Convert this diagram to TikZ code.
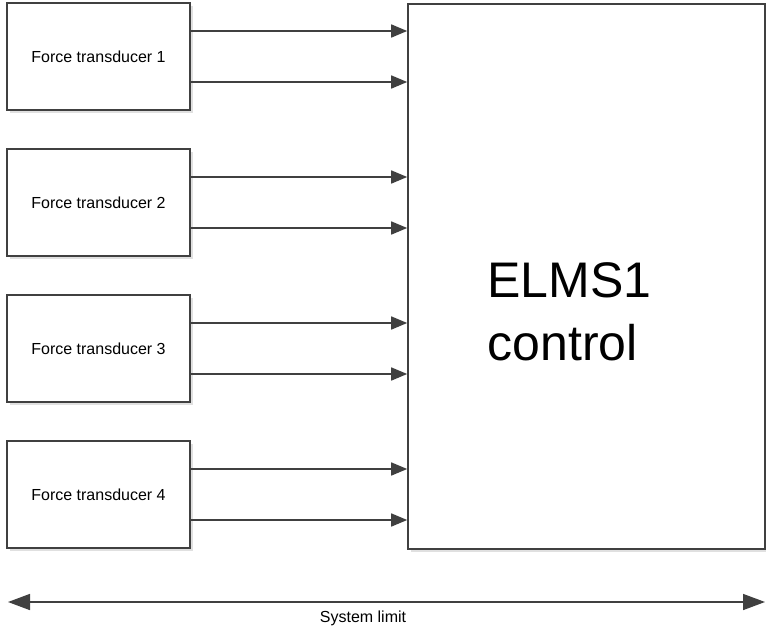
\documentclass[tikz,border=0pt]{standalone}
\usepackage{fontspec}
\setmainfont{Liberation Sans}
\usepackage{xcolor}
\usepackage{tikz}
\usetikzlibrary{arrows.meta,positioning,calc,shadows}
\definecolor{edge}{HTML}{404040}

\begin{document}
\begin{tikzpicture}[x=1pt,y=-1pt,
	box/.style={draw=edge,line width=1.6pt,fill=white,minimum width=183pt,minimum height=107pt,
		font=\fontsize{16}{19}\selectfont,
		drop shadow={shadow xshift=3pt,shadow yshift=-3pt,fill=black!12,opacity=1}},
	sig/.style={draw=edge,line width=1.6pt,-{Triangle[length=16pt,width=13pt]}},
	lim/.style={draw=edge,line width=1.6pt,{Triangle[length=22pt,width=16pt]}-{Triangle[length=22pt,width=16pt]}}]
	\useasboundingbox (0,0) rectangle (766,632);
	% control unit
	\node[box,minimum width=357pt,minimum height=545pt] (elms) at (586.5,276.5) {};
	\node[font=\fontsize{50}{63}\selectfont,align=left,inner sep=0pt] (elmstxt) at (569.5,311.5) {ELMS1\\control};
	% transducers with their two signal lines
	\foreach \i in {1,...,4}{
		\node[box] (ft\i) at (98.5,{56.5+146*(\i-1)}) {Force transducer \i};
		\draw[sig] ([yshift=-25.5pt]ft\i.east) -- ([yshift=-25.5pt]ft\i.east -| elms.west);
		\draw[sig] ([yshift=25.5pt]ft\i.east) -- ([yshift=25.5pt]ft\i.east -| elms.west);
	}
	% system limit
	\coordinate (liml) at (8,602);
	\coordinate (limr) at (765,602);
	\draw[lim] (liml) -- (limr);
	\node[font=\fontsize{16}{19}\selectfont] (limtxt) at (363,618) {System limit};
\end{tikzpicture}
\end{document}
